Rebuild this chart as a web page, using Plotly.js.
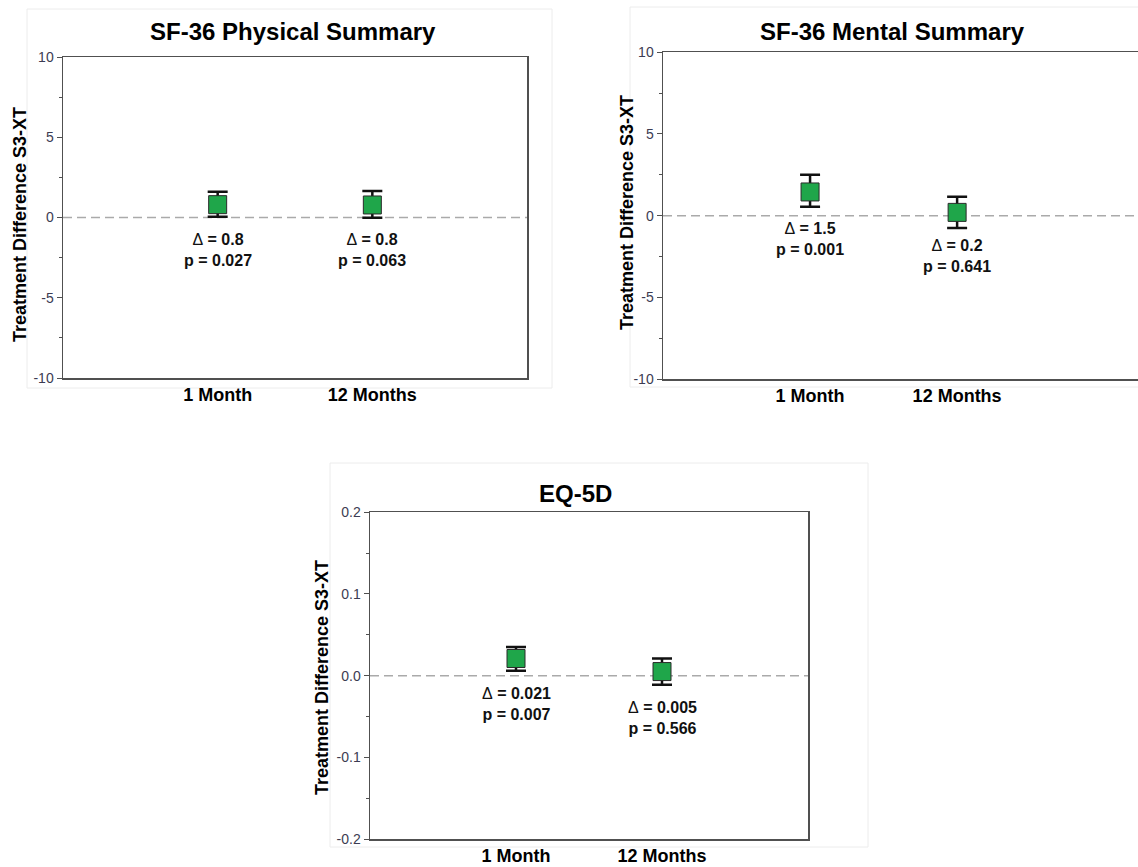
<!DOCTYPE html>
<html>
<head>
<meta charset="utf-8">
<script src="https://cdn.plot.ly/plotly-3.0.1.min.js"></script>
<style>html,body{margin:0;padding:0;background:#fff;}#chart{width:1138px;height:867px;}</style>
</head>
<body>
<div id="chart"></div>
<script>
// ---- data ----
const categories = ['1 Month', '12 Months'];

const physMean = [0.8, 0.78];
const physLow = [0.05, -0.02];
const physHigh = [1.6, 1.65];
const physDelta = ['0.8', '0.8'];
const physP = ['0.027', '0.063'];

const mentMean = [1.45, 0.2];
const mentLow = [0.55, -0.75];
const mentHigh = [2.5, 1.15];
const mentDelta = ['1.5', '0.2'];
const mentP = ['0.001', '0.641'];

const eqMean = [0.021, 0.005];
const eqLow = [0.006, -0.011];
const eqHigh = [0.035, 0.021];
const eqDelta = ['0.021', '0.005'];
const eqP = ['0.007', '0.566'];

const yTickVals1 = [-10, -5, 0, 5, 10];
const yTickVals3 = [-0.2, -0.1, 0.0, 0.1, 0.2];

// ---- layout helpers ----
const W = 1138, H = 867;
const px = v => v / W;
const py = v => 1 - v / H;
const FONT = 'Liberation Sans, Arial, sans-serif';

const panels = [
  {title: 'SF-36 Physical Summary', mean: physMean, low: physLow, high: physHigh, delta: physDelta, p: physP,
   xd: [px(63), px(527)], yd: [py(378), py(57)], xr: [0, 3], yr: [-10, 10], ytv: yTickVals1, ytt: null,
   minor: 2.5, mirrorY: true, titlePos: [293, 31], ytitlePos: [20, 225], labelY: [-2.04, -2.04]},
  {title: 'SF-36 Mental Summary', mean: mentMean, low: mentLow, high: mentHigh, delta: mentDelta, p: mentP,
   xd: [px(663), 1], yd: [py(379), py(52.3)], xr: [0, 3.23], yr: [-10, 10], ytv: yTickVals1, ytt: null,
   minor: 2.5, mirrorY: false, titlePos: [892, 31], ytitlePos: [627, 213], labelY: [-1.41, -2.48]},
  {title: 'EQ-5D', mean: eqMean, low: eqLow, high: eqHigh, delta: eqDelta, p: eqP,
   xd: [px(370), px(808)], yd: [py(839), py(512.3)], xr: [0, 3], yr: [-0.2, 0.2], ytv: yTickVals3, ytt: yTickVals3.map(v => v.toFixed(1)),
   minor: 0.05, mirrorY: true, titlePos: [575, 493], ytitlePos: [322, 678], labelY: [-0.0344, -0.0516]}
];

const data = [];
const layout = {
  width: W, height: H,
  margin: {l: 0, r: 0, t: 0, b: 0},
  paper_bgcolor: '#ffffff', plot_bgcolor: '#ffffff',
  showlegend: false,
  font: {family: FONT, color: '#000'},
  annotations: [],
  shapes: []
};

const xPos = categories.map((c, i) => i + 1);

panels.forEach((pn, k) => {
  const n = k === 0 ? '' : String(k + 1);
  const xa = 'x' + n, ya = 'y' + n;
  data.push({
    type: 'scatter', mode: 'markers', xaxis: xa, yaxis: ya,
    x: xPos, y: pn.mean,
    marker: {symbol: 'square', size: 18, color: '#1fa64a', line: {color: '#2a2a2a', width: 1}},
    error_y: {
      type: 'data', symmetric: false,
      array: pn.high.map((h, i) => h - pn.mean[i]),
      arrayminus: pn.low.map((l, i) => pn.mean[i] - l),
      color: '#111', thickness: 2.5, width: 10
    },
    hoverinfo: 'skip'
  });
  layout['xaxis' + n] = {
    domain: pn.xd, range: pn.xr, anchor: ya,
    tickvals: xPos, ticktext: categories, ticks: '',
    showgrid: false, zeroline: false,
    showline: true, linecolor: '#505050', linewidth: 1.5, mirror: true,
    tickfont: {family: FONT, size: 18, color: '#000', weight: 'bold'},
    fixedrange: true
  };
  layout['yaxis' + n] = {
    domain: pn.yd, range: pn.yr, anchor: xa,
    tickvals: pn.ytv, ticktext: pn.ytt || pn.ytv.map(String),
    ticks: 'outside', ticklen: 5, tickwidth: 1, tickcolor: '#505050',
    minor: {dtick: pn.minor, ticks: 'outside', ticklen: 3, tickwidth: 1, tickcolor: '#505050', showgrid: false},
    showgrid: false, zeroline: false,
    showline: true, linecolor: '#505050', linewidth: 1.5, mirror: pn.mirrorY,
    tickfont: {family: FONT, size: 14, color: '#3c3c52'},
    fixedrange: true
  };
  // dashed reference line at zero
  layout.shapes.push({
    type: 'line', xref: xa + ' domain', yref: ya, x0: 0, x1: 1, y0: 0, y1: 0,
    line: {color: '#aaaaaa', width: 1.5, dash: '9px,5px'}, layer: 'below'
  });
  // panel title
  layout.annotations.push({
    xref: 'paper', yref: 'paper', x: px(pn.titlePos[0]), y: py(pn.titlePos[1]),
    xanchor: 'center', yanchor: 'middle', showarrow: false,
    text: '<b>' + pn.title + '</b>',
    font: {family: FONT, size: 24, color: '#000'}
  });
  // y title
  layout.annotations.push({
    xref: 'paper', yref: 'paper', x: px(pn.ytitlePos[0]), y: py(pn.ytitlePos[1]),
    xanchor: 'center', yanchor: 'middle', showarrow: false, textangle: -90,
    text: '<b>Treatment Difference S3-XT</b>',
    font: {family: FONT, size: 18, color: '#000'}
  });
  // delta / p labels
  categories.forEach((c, i) => {
    layout.annotations.push({
      xref: xa, yref: ya, x: xPos[i], y: pn.labelY[i],
      xanchor: 'center', yanchor: 'middle', showarrow: false, align: 'center',
      text: '<b><span style="font-weight:normal">Δ</span> = ' + pn.delta[i] + '<br>p = ' + pn.p[i] + '</b>',
      font: {family: FONT, size: 16, color: '#111'}
    });
  });
});

// faint frames around each panel image
[[27, 9, 552, 388], [630, 7, 1160, 387], [330, 463, 868, 847]].forEach(f => {
  layout.shapes.push({
    type: 'rect', xref: 'paper', yref: 'paper',
    x0: px(f[0]), x1: px(f[2]), y0: py(f[3]), y1: py(f[1]),
    line: {color: '#ececec', width: 1}, layer: 'below'
  });
});

Plotly.newPlot('chart', data, layout, {displayModeBar: false, staticPlot: true});
</script>
</body>
</html>
